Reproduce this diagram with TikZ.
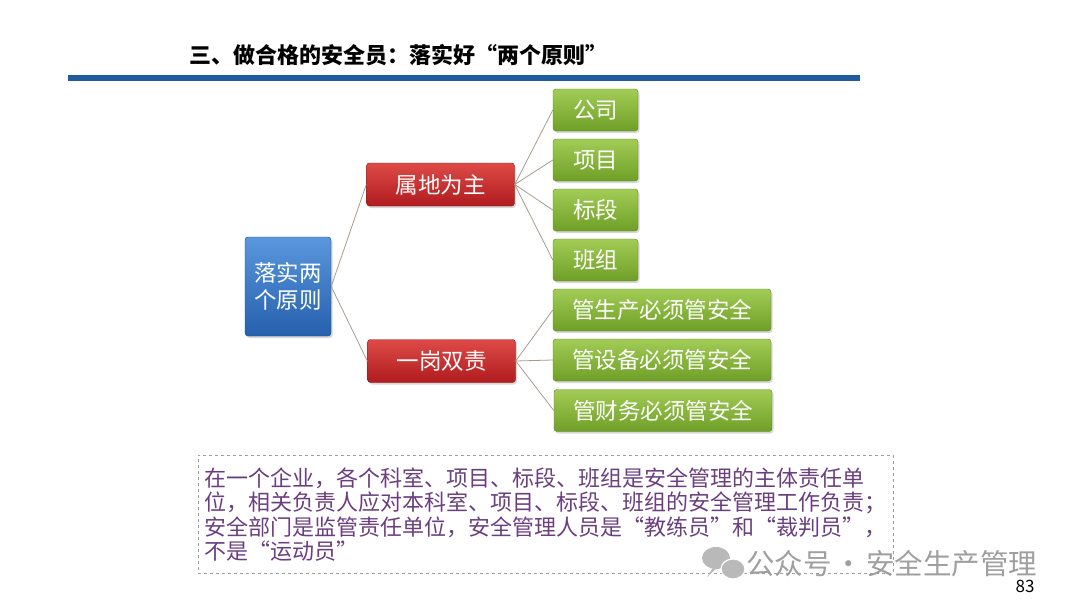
\documentclass[tikz,border=0pt]{standalone}
\usepackage{fontspec}
\newfontfamily\cjk{Noto Sans CJK SC}
\usetikzlibrary{shadows}
\definecolor{barblue}{HTML}{1E5C9C}
\definecolor{bluetop}{HTML}{5A97DC}
\definecolor{bluebot}{HTML}{2660AE}
\definecolor{redtop}{HTML}{DE4A46}
\definecolor{redbot}{HTML}{B01C1F}
\definecolor{greentop}{HTML}{A2CC55}
\definecolor{greenbot}{HTML}{6F9F28}
\definecolor{notepurple}{HTML}{6B3F7F}
\definecolor{conncol}{HTML}{A89C90}
\tikzset{
  boxbase/.style={rounded corners=3pt, text=white, inner sep=0pt,
    font=\cjk\fontsize{22.5}{27}\selectfont,
    drop shadow={shadow xshift=1.5pt, shadow yshift=-2pt, opacity=0.3}},
  rootbox/.style={boxbase, top color=bluetop, bottom color=bluebot, draw=bluebot!80!black,
    minimum width=86pt, minimum height=99pt, align=center},
  redbox/.style={boxbase, top color=redtop, bottom color=redbot, draw=redbot!80!black,
    minimum width=148pt, minimum height=43pt},
  greenbox/.style={boxbase, top color=greentop, bottom color=greenbot, draw=greenbot!85!black,
    minimum width=85pt, minimum height=42pt},
  widegreen/.style={greenbox, minimum width=218pt},
  conn/.style={draw=conncol, line width=0.8pt},
}
\begin{document}
\begin{tikzpicture}[x=1pt,y=-1pt]
\useasboundingbox (0,0) rectangle (1080,608);
\fill[white] (0,0) rectangle (1080,608);

% title and bar
\node[font=\cjk\bfseries\fontsize{22}{26}\selectfont, anchor=west, inner sep=0pt] (title) at (189,55) {三、做合格的安全员：落实好“两个原则”};
\fill[barblue] (68,75) rectangle (860,81);

% nodes
\node[rootbox] (root) at (288,286.5) {落实两\\个原则};
\node[redbox] (r1) at (440.5,184.5) {属地为主};
\node[redbox] (r2) at (441.5,361) {一岗双责};
\node[greenbox] (g1) at (595.5,110) {公司};
\node[greenbox] (g2) at (595.5,160) {项目};
\node[greenbox] (g3) at (595.5,210) {标段};
\node[greenbox] (g4) at (595.5,260) {班组};
\node[widegreen] (w1) at (662,310) {管生产必须管安全};
\node[widegreen] (w2) at (662,360) {管设备必须管安全};
\node[widegreen] (w3) at (663,410.5) {管财务必须管安全};

% connectors
\draw[conn] (root.east) -- (r1.west);
\draw[conn] (root.east) -- (r2.west);
\foreach \g in {g1,g2,g3,g4} \draw[conn] (r1.east) -- (\g.west);
\foreach \g in {w1,w2,w3} \draw[conn] (r2.east) -- (\g.west);

% note box
\node[draw=gray!75, dashed, line width=0.7pt, anchor=north west, minimum width=695pt, minimum height=118pt,
  inner sep=2pt, align=left, text=notepurple, font=\cjk\fontsize{22}{24.5}\selectfont] (note) at (198,455)
  {在一个企业，各个科室、项目、标段、班组是安全管理的主体责任单\\
   位，相关负责人应对本科室、项目、标段、班组的安全管理工作负责；\\
   安全部门是监管责任单位，安全管理人员是“教练员”和“裁判员”，\\
   不是“运动员”};

% watermark
\fill[gray!55] (716,558) ellipse [x radius=14pt, y radius=11pt];
\fill[gray!55] (712,569) -- (707,577) -- (718,567) -- cycle;
\filldraw[fill=gray!55, draw=white, line width=1.2pt] (733,569) ellipse [x radius=12pt, y radius=10pt];
\node[anchor=west, inner sep=0pt, text=gray!75, font=\cjk\fontsize{28.5}{30}\selectfont] (wm) at (746,564) {公众号\hspace{3pt}·\hspace{3pt}安全生产管理};
\node[inner sep=0pt, font=\cjk\fontsize{17}{20}\selectfont] (page) at (1025,586) {83};
\end{tikzpicture}
\end{document}
